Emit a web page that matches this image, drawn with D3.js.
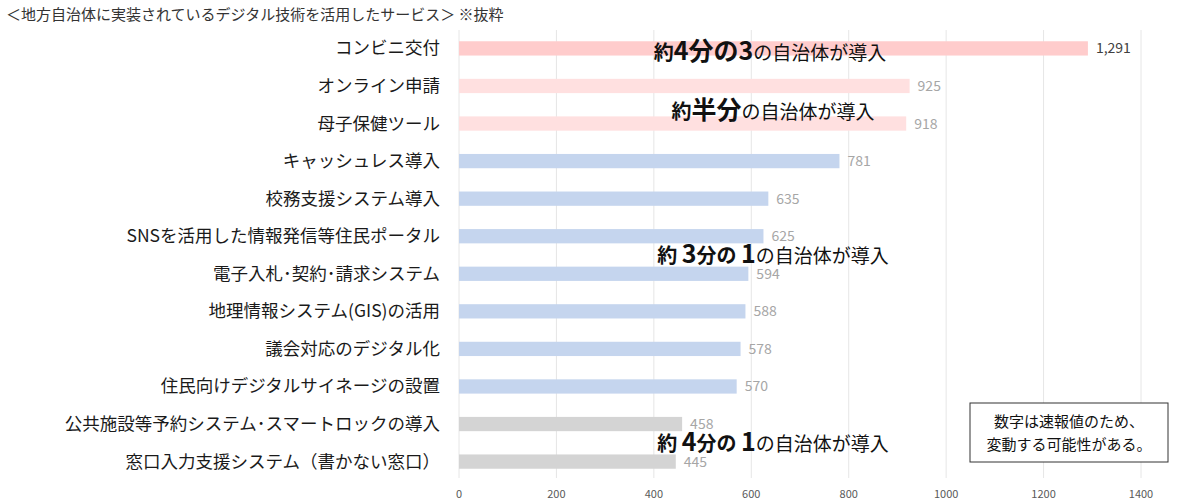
<!DOCTYPE html><html><head><meta charset="utf-8"><script src="https://cdn.jsdelivr.net/npm/d3@7"></script>
<style>body{margin:0;background:#fff}text{font-family:"Noto Sans CJK JP","Noto Sans",sans-serif}</style></head><body><svg id="c" width="1201" height="502"></svg><script>
const categories=["コンビニ交付","オンライン申請","母子保健ツール","キャッシュレス導入","校務支援システム導入","SNSを活用した情報発信等住民ポータル","電子入札･契約･請求システム","地理情報システム(GIS)の活用","議会対応のデジタル化","住民向けデジタルサイネージの設置","公共施設等予約システム･スマートロックの導入","窓口入力支援システム（書かない窓口）"];
const values=[1291,925,918,781,635,625,594,588,578,570,458,445];
const groups=["a","b","b","c","c","c","c","c","c","c","d","d"];
const ticks=[0,200,400,600,800,1000,1200,1400];
const colors={a:"#ffcccc",b:"#ffe0e0",c:"#c5d5ee",d:"#d4d4d4"};
const svg=d3.select("#c");
const x=d3.scaleLinear().domain([0,1400]).range([459,1141]);
const y=d3.scaleBand().domain(categories).range([30,480]).paddingInner(0.62).paddingOuter(0.3);
svg.append("text").attr("x",6).attr("y",20).attr("font-size",15).attr("fill","#333").text("＜地方自治体に実装されているデジタル技術を活用したサービス＞ ※抜粋");
svg.append("g").selectAll("line").data(ticks).join("line").attr("x1",d=>x(d)).attr("x2",d=>x(d)).attr("y1",30).attr("y2",478).attr("stroke","#e6e6e6");
svg.append("g").selectAll("text").data(ticks).join("text").attr("x",d=>x(d)).attr("y",498).attr("text-anchor","middle").attr("font-size",11).attr("fill","#595959").text(d=>d);
svg.append("g").selectAll("rect").data(values).join("rect").attr("x",x(0)).attr("y",(d,i)=>y(categories[i])).attr("width",d=>x(d)-x(0)).attr("height",y.bandwidth()).attr("fill",(d,i)=>colors[groups[i]]);
svg.append("g").selectAll("text").data(values).join("text").attr("x",d=>x(d)+8).attr("y",(d,i)=>y(categories[i])+y.bandwidth()/2+5).attr("font-size",14).attr("fill",(d,i)=>i==0?"#404040":"#a6a6a6").text(d=>d3.format(",")(d));
svg.append("g").selectAll("text").data(categories).join("text").attr("x",440).attr("y",d=>y(d)+y.bandwidth()/2+6).attr("text-anchor","end").attr("font-size",17.5).attr("fill","#1a1a1a").text(d=>d);
const notes=[{x:770,y:60,parts:[["約",20],["4分の3",25]]},{x:773,y:119,parts:[["約",20],["半分",25]]},{x:773,y:263,parts:[["約 ",20],["3",25],["分の ",20],["1",25]]},{x:773,y:451,parts:[["約 ",20],["4",25],["分の ",20],["1",25]]}];
notes.forEach(n=>{const t=svg.append("text").attr("x",n.x).attr("y",n.y).attr("text-anchor","middle").attr("fill","#111");
n.parts.forEach(p=>t.append("tspan").attr("font-size",p[1]).attr("font-weight","bold").text(p[0]));
t.append("tspan").attr("font-size",19).text("の自治体が導入");});
svg.append("rect").attr("x",970).attr("y",403).attr("width",198).attr("height",59).attr("fill","#fff").attr("stroke","#333");
svg.append("text").attr("x",1069).attr("y",427).attr("text-anchor","middle").attr("font-size",15).attr("fill","#111").text("数字は速報値のため、");
svg.append("text").attr("x",1069).attr("y",450).attr("text-anchor","middle").attr("font-size",15).attr("fill","#111").text("変動する可能性がある。");
</script></body></html>
